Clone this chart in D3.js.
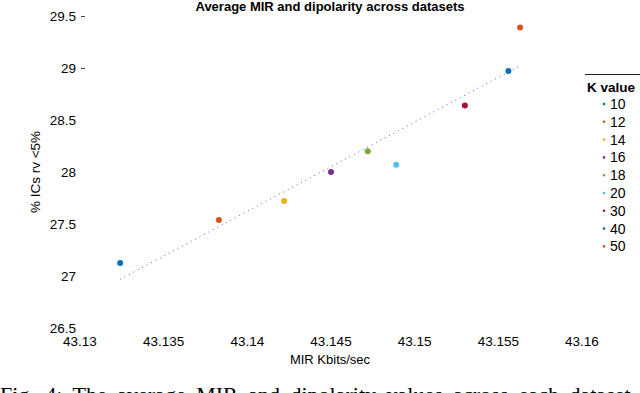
<!DOCTYPE html>
<html>
<head>
<meta charset="utf-8">
<script src="https://cdn.jsdelivr.net/npm/d3@7"></script>
<style>
  body { margin: 0; background: #fff; }
  svg { display: block; font-family: "Liberation Sans", Arial, sans-serif; }
</style>
</head>
<body>
<div id="draw"></div>
<script>
// values
const kValues = ['10', '12', '14', '16', '18', '20', '30', '40', '50'];
const mirValues = [43.1324, 43.1383, 43.1422, 43.1450, 43.1472, 43.1489, 43.1530, 43.1556, 43.1563];
const icValues = [27.125, 27.538, 27.72, 28.0, 28.20, 28.07, 28.64, 28.97, 29.39];
const kColors = ['#0072BD', '#D95319', '#EDB120', '#7E2F8E', '#77AC30', '#4DBEEE', '#A2142F', '#0072BD', '#D95319'];
const xTicks = [43.13, 43.135, 43.14, 43.145, 43.15, 43.155, 43.16];
const yTicks = [26.5, 27, 27.5, 28, 28.5, 29, 29.5];

let width = 640,
    height = 393;

let data = kValues.map((k, i) => ({ k: k, mir: mirValues[i], ic: icValues[i], color: kColors[i] }));

let svg = d3.select('#draw')
    .append('svg')
    .attr('width', width)
    .attr('height', height);

let xScale = d3.scaleLinear().domain([43.13, 43.16]).range([80, 582]),
    yScale = d3.scaleLinear().domain([26.5, 29.5]).range([328, 16]);

// title
svg.append('text')
    .attr('x', 330)
    .attr('y', 11)
    .attr('text-anchor', 'middle')
    .style('font-weight', 'bold')
    .style('font-size', '13px')
    .text('Average MIR and dipolarity across datasets');

// y tick labels (only top two keep the little dash)
svg.append('g').selectAll('text')
    .data(yTicks)
    .enter()
    .append('text')
    .attr('x', 76)
    .attr('y', d => yScale(d) + 5)
    .attr('text-anchor', 'end')
    .style('font-size', '13.5px')
    .text(d => d);

svg.append('g').selectAll('line')
    .data(yTicks.filter(d => d >= 29))
    .enter()
    .append('line')
    .attr('x1', 81)
    .attr('x2', 85)
    .attr('y1', d => yScale(d) + 0.5)
    .attr('y2', d => yScale(d) + 0.5)
    .attr('stroke', '#444')
    .attr('stroke-width', 1);

// x tick labels
svg.append('g').selectAll('text')
    .data(xTicks)
    .enter()
    .append('text')
    .attr('x', d => xScale(d))
    .attr('y', 346)
    .attr('text-anchor', 'middle')
    .style('font-size', '13.5px')
    .text(d => d);

svg.append('text')
    .attr('x', 330)
    .attr('y', 364)
    .attr('text-anchor', 'middle')
    .style('font-size', '13px')
    .text('MIR Kbits/sec');

svg.append('text')
    .attr('transform', 'translate(40,172) rotate(-90)')
    .attr('text-anchor', 'middle')
    .style('font-size', '13.5px')
    .text('% ICs rv <5%');

// least squares fit line
let mx = d3.mean(data, d => d.mir),
    my = d3.mean(data, d => d.ic);
let slope = d3.sum(data, d => (d.mir - mx) * (d.ic - my)) / d3.sum(data, d => (d.mir - mx) * (d.mir - mx));
let fitX = d3.extent(data, d => d.mir);

svg.append('line')
    .attr('x1', xScale(fitX[0]))
    .attr('y1', yScale(my + slope * (fitX[0] - mx)))
    .attr('x2', xScale(fitX[1]))
    .attr('y2', yScale(my + slope * (fitX[1] - mx)))
    .attr('stroke', '#2a2aff')
    .attr('stroke-width', 0.9)
    .attr('stroke-dasharray', '1,4')
    .attr('opacity', 0.85);

// points
svg.append('g').selectAll('circle')
    .data(data)
    .enter()
    .append('circle')
    .attr('cx', d => xScale(d.mir))
    .attr('cy', d => yScale(d.ic))
    .attr('r', 3)
    .attr('fill', d => d.color);

// legend
let legend = svg.append('g');
legend.append('line')
    .attr('x1', 585).attr('x2', 640)
    .attr('y1', 74.5).attr('y2', 74.5)
    .attr('stroke', '#222');
legend.append('text')
    .attr('x', 587)
    .attr('y', 92)
    .style('font-weight', 'bold')
    .style('font-size', '13.5px')
    .text('K value');

let rows = legend.selectAll('g.row')
    .data(data)
    .enter()
    .append('g')
    .attr('class', 'row')
    .attr('transform', (d, i) => 'translate(0,' + (104 + i * 17.8) + ')');
rows.append('circle')
    .attr('cx', 604)
    .attr('cy', 0)
    .attr('r', 1.3)
    .attr('fill', d => d.color);
rows.append('text')
    .attr('x', 610)
    .attr('y', 5)
    .style('font-size', '14px')
    .text(d => d.k);

// caption of the figure, cut by the page edge
svg.append('text')
    .attr('x', 0)
    .attr('y', 402)
    .style('font-family', '"Liberation Serif", "Times New Roman", serif')
    .style('font-size', '22px')
    .style('word-spacing', '5px')
    .text('Fig. 4: The average MIR and dipolarity values across each dataset');
</script>
</body>
</html>
